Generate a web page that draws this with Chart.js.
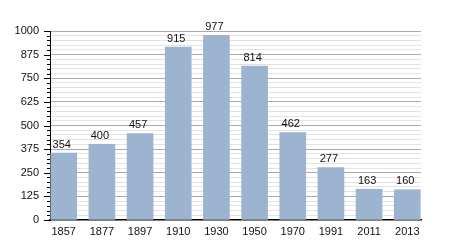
<!DOCTYPE html>
<html>
<head>
<meta charset="utf-8">
<script src="https://cdn.jsdelivr.net/npm/chart.js@4"></script>
<style>
  html, body { margin: 0; padding: 0; background: #fff; }
  #wrap { width: 450px; height: 250px; }
</style>
</head>
<body>
<div id="wrap"><canvas id="mycanvas" width="450" height="250"></canvas></div>
<script>
var years = ["1857", "1877", "1897", "1910", "1930", "1950", "1970", "1991", "2011", "2013"];
var population = [354, 400, 457, 915, 977, 814, 462, 277, 163, 160];
var yMax = 1000;
var majorStep = 125;

// bars sit on index positions so the first and last touch the plot edges
var points = [];
for (var i in years) {
	points.push({ x: Number(i), y: population[i] });
}

// writes the value above each bar
var valueLabels = {
	id: 'valueLabels',
	afterDatasetsDraw: function(chart) {
		var ctx = chart.ctx;
		var meta = chart.getDatasetMeta(0);
		ctx.save();
		ctx.font = '11px "Liberation Sans", Arial, sans-serif';
		ctx.fillStyle = '#111';
		ctx.textAlign = 'center';
		ctx.textBaseline = 'bottom';
		meta.data.forEach(function(bar, i) {
			ctx.fillText(population[i], bar.x - 2, bar.y - 3);
		});
		ctx.restore();
	}
};

// short ticks for the minor steps, longer for the labelled ones
var yTicks = {
	id: 'yTicks',
	afterDraw: function(chart) {
		var y = chart.scales.y;
		var ctx = chart.ctx;
		var x0 = chart.chartArea.left;
		ctx.save();
		ctx.strokeStyle = '#000';
		ctx.lineWidth = 1;
		y.ticks.forEach(function(t) {
			var py = Math.round(y.getPixelForValue(t.value)) + 0.5;
			var len = (t.value % majorStep === 0) ? 6 : 3;
			ctx.beginPath();
			ctx.moveTo(x0 - len, py);
			ctx.lineTo(x0, py);
			ctx.stroke();
		});
		ctx.restore();
	}
};

var ctx = document.getElementById('mycanvas');
var barGraph = new Chart(ctx, {
	type: 'bar',
	data: {
		datasets: [{
			data: points,
			backgroundColor: '#9cb4cf',
			borderWidth: 0,
			barThickness: 26
		}]
	},
	options: {
		responsive: false,
		animation: false,
		layout: { padding: { top: 31, right: 29, bottom: 6, left: 0 } },
		plugins: { legend: { display: false }, tooltip: { enabled: false } },
		scales: {
			x: {
				type: 'linear',
				min: -0.36,
				max: years.length - 1 + 0.36,
				offset: false,
				grid: { display: false, drawTicks: false },
				border: { color: '#000', width: 1.5 },
				afterBuildTicks: function(scale) {
					scale.ticks = years.map(function(y, i) { return { value: i }; });
				},
				ticks: {
					color: '#111',
					padding: 5,
					font: { family: '"Liberation Sans", Arial, sans-serif', size: 11 },
					maxRotation: 0,
					autoSkip: false,
					callback: function(v) { return years[v]; }
				},
				afterFit: function(scale) { scale.height = 24; }
			},
			y: {
				min: 0,
				max: yMax,
				border: { color: '#000', width: 1 },
				grid: {
					drawTicks: false,
					color: function(c) {
						if (c.tick.value === 0) return 'rgba(0,0,0,0)';
						return (c.tick.value % majorStep === 0) ? '#aaaaaa' : '#e3e3e3';
					}
				},
				ticks: {
					stepSize: 25,
					autoSkip: false,
					color: '#111',
					padding: 11,
					font: { family: '"Liberation Sans", Arial, sans-serif', size: 11 },
					callback: function(v) { return (v % majorStep === 0) ? v : ''; }
				},
				afterFit: function(scale) { scale.width = 50; }
			}
		}
	},
	plugins: [valueLabels, yTicks]
});
</script>
</body>
</html>
